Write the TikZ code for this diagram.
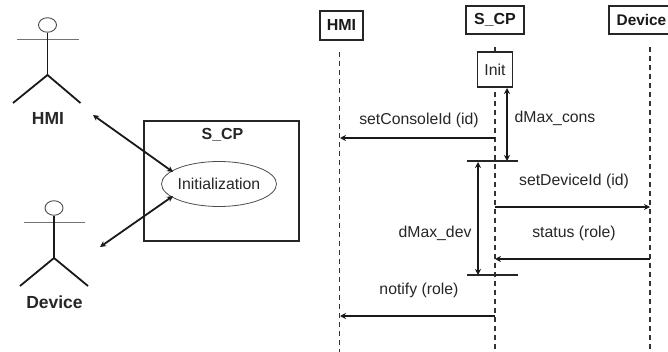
\documentclass[tikz,border=0pt]{standalone}
\usepackage{fontspec}
\setmainfont{Liberation Sans}
\usetikzlibrary{arrows.meta,shapes.geometric}
\tikzset{
 lbl/.style={inner sep=0pt,font=\fontsize{15.8}{18}\selectfont,text=black!85},
 bold lbl/.style={inner sep=0pt,font=\fontsize{16}{18}\selectfont\bfseries,text=black!85},
 actor lbl/.style={inner sep=0pt,font=\fontsize{17.5}{20}\selectfont\bfseries,text=black!85},
 head/.style={draw=black!70,line width=0.9pt,fill=white,ellipse,minimum width=18pt,minimum height=14.5pt,inner sep=0pt},
 limb/.style={line width=1.8pt,black!90},
 arm/.style={line width=1pt,black!55},
 msg/.style={line width=2pt,-{Stealth[length=6pt,width=6pt]},black!90},
 dbl/.style={line width=1.8pt,{Stealth[length=6pt,width=6pt]}-{Stealth[length=6pt,width=6pt]},black!90},
 life/.style={line width=1.4pt,dash pattern=on 5pt off 4pt,black!80},
 part/.style={draw=black!85,line width=1.8pt,fill=white,inner sep=0pt,font=\fontsize{16}{18}\selectfont\bfseries,text=black!90},
 bar/.style={line width=1.6pt,black!85},
}
\begin{document}
\begin{tikzpicture}[x=1pt,y=-1pt]
\useasboundingbox (0,0) rectangle (668,352);
% HMI actor
\coordinate (ha) at (47.5,75);
\coordinate (hl) at (13,103);
\coordinate (hr) at (80.5,103);
\coordinate (hal) at (17,40);
\coordinate (har) at (79,40);
\draw[arm] (hal) -- (har);
\node[head] (hhead) at (47.5,25) {};
\draw[line width=1.4pt,black!90] (hhead) -- (ha);
\draw[limb] (hl) -- (ha) -- (hr);
\node[actor lbl] (hlabel) at (48,118) {HMI};
% Device actor
\coordinate (da) at (54,258);
\coordinate (dl) at (20,286);
\coordinate (dr) at (88,286);
\coordinate (dal) at (24,223);
\coordinate (dar) at (85,223);
\draw[arm] (dal) -- (dar);
\node[head] (dhead) at (54,208) {};
\draw[line width=1.4pt,black!90] (dhead) -- (da);
\draw[limb] (dl) -- (da) -- (dr);
\node[actor lbl] (dlabel) at (54.5,302) {Device};
% S_CP box
\node[draw=black!85,line width=1.7pt,minimum width=155pt,minimum height=120pt,inner sep=0pt] (sys) at (221.5,181) {};
\node[bold lbl] (syslabel) at (222.5,135) {S\_CP};
\node[draw=black!70,line width=0.8pt,ellipse,fill=white,minimum width=115pt,minimum height=45pt,inner sep=0pt] (init) at (219,184) {};
\node[lbl] at (init) {Initialization};
\coordinate (ha1) at (93,115);
\coordinate (ia1) at (173,172);
\coordinate (da1) at (100,247);
\coordinate (ia2) at (173,196);
\draw[dbl] (ha1) -- (ia1);
\draw[dbl] (da1) -- (ia2);
% Lifelines
\node[part,minimum width=43pt,minimum height=29pt] (phmi) at (341.5,25.5) {HMI};
\node[part,minimum width=58pt,minimum height=28pt] (pscp) at (495,20) {S\_CP};
\node[part,minimum width=64pt,minimum height=28pt,anchor=west] (pdev) at (608,20) {};
\node[inner sep=0pt,anchor=east,font=\fontsize{15.4}{18}\selectfont\bfseries,text=black!90] (pdevt) at (666.5,20) {Device};
\coordinate (lh0) at (339.5,52);
\coordinate (lh1) at (339.5,352);
\coordinate (ls0) at (495,47);
\coordinate (ls1) at (495,352);
\coordinate (ld0) at (650,47);
\coordinate (ld1) at (650,352);
\draw[life] (lh0) -- (lh1);
\draw[life] (ls0) -- (ls1);
\draw[life] (ld0) -- (ld1);
\node[draw=black!85,line width=1.2pt,fill=white,minimum width=35pt,minimum height=35pt,inner sep=0pt,lbl] (ibox) at (495,69.5) {Init};
% Time bars
\coordinate (b1l) at (467,161);
\coordinate (b1r) at (518,161);
\coordinate (b2l) at (467,275);
\coordinate (b2r) at (518,275);
\draw[bar] (b1l) -- (b1r);
\draw[bar] (b2l) -- (b2r);
\coordinate (dc0) at (507,88);
\coordinate (dc1) at (507,161);
\coordinate (dd0) at (478,162);
\coordinate (dd1) at (478,275);
\draw[dbl] (dc0) -- (dc1);
\draw[dbl] (dd0) -- (dd1);
% Messages
\coordinate (m1a) at (495,138); \coordinate (m1b) at (340,138);
\coordinate (m2a) at (495,207); \coordinate (m2b) at (650,207);
\coordinate (m3a) at (650,259); \coordinate (m3b) at (495,259);
\coordinate (m4a) at (495,316); \coordinate (m4b) at (340,316);
\draw[msg] (m1a) -- (m1b);
\draw[msg] (m2a) -- (m2b);
\draw[msg] (m3a) -- (m3b);
\draw[msg] (m4a) -- (m4b);
\node[lbl] at (419,120.5) {setConsoleId (id)};
\node[lbl] at (555,118) {dMax\_cons};
\node[lbl] at (574,181) {setDeviceId (id)};
\node[lbl] at (435,233) {dMax\_dev};
\node[lbl] at (574,233) {status (role)};
\node[lbl] at (419,290) {notify (role)};
\end{tikzpicture}
\end{document}
